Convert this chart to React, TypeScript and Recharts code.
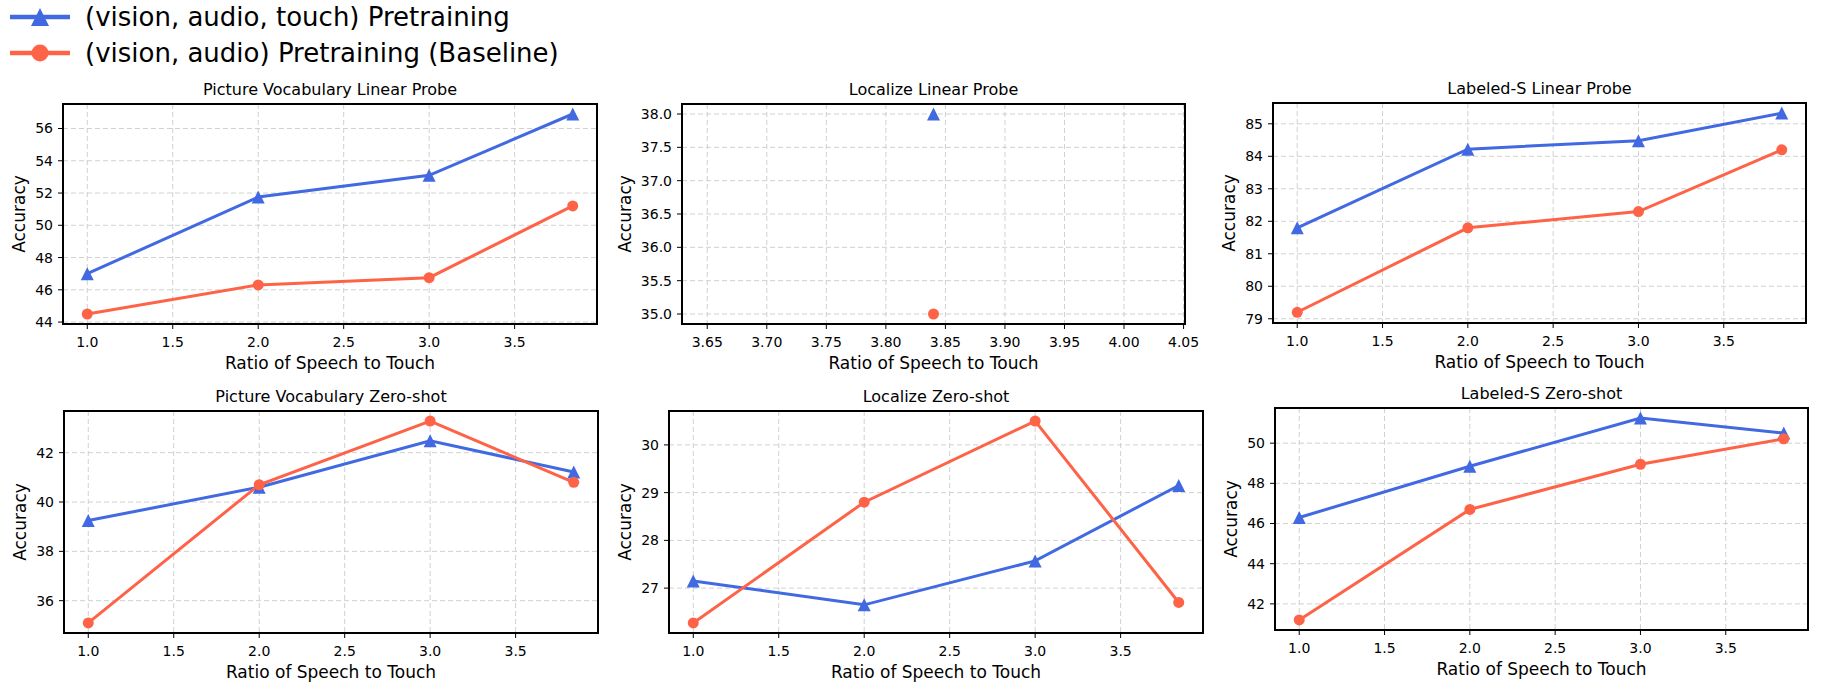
import { LineChart, Line, XAxis, YAxis, CartesianGrid } from 'recharts';

const BLUE = '#4169E1';
const RED = '#FF6347';
const FONT = '"DejaVu Sans", sans-serif';

// x values (ratio of speech to touch)
const X_RATIOS = [1.0, 2.0, 3.0, 3.84];
const X_SINGLE = [3.84];
const X_TICKS = [1.0, 1.5, 2.0, 2.5, 3.0, 3.5];
const X_TICKS_SINGLE = [3.65, 3.7, 3.75, 3.8, 3.85, 3.9, 3.95, 4.0, 4.05];

// accuracy per panel: "tri" = (vision, audio, touch), "base" = (vision, audio)
const PV_LINEAR_TRI = [47.0, 51.75, 53.1, 56.9];
const PV_LINEAR_BASE = [44.5, 46.3, 46.75, 51.2];
const LOC_LINEAR_TRI = [38.0];
const LOC_LINEAR_BASE = [35.0];
const LS_LINEAR_TRI = [81.8, 84.22, 84.48, 85.33];
const LS_LINEAR_BASE = [79.2, 81.8, 82.3, 84.2];
const PV_ZERO_TRI = [39.25, 40.6, 42.48, 41.22];
const PV_ZERO_BASE = [35.1, 40.7, 43.28, 40.8];
const LOC_ZERO_TRI = [27.15, 26.65, 27.57, 29.15];
const LOC_ZERO_BASE = [26.27, 28.8, 30.5, 26.7];
const LS_ZERO_TRI = [46.3, 48.85, 51.25, 50.5];
const LS_ZERO_BASE = [41.2, 46.7, 48.95, 50.22];

const PV_LINEAR_TICKS = [44, 46, 48, 50, 52, 54, 56];
const LOC_LINEAR_TICKS = [35.0, 35.5, 36.0, 36.5, 37.0, 37.5, 38.0];
const LS_LINEAR_TICKS = [79, 80, 81, 82, 83, 84, 85];
const PV_ZERO_TICKS = [36, 38, 40, 42];
const LOC_ZERO_TICKS = [27, 28, 29, 30];
const LS_ZERO_TICKS = [42, 44, 46, 48, 50];

const LEGEND_TRI = '(vision, audio, touch) Pretraining';
const LEGEND_BASE = '(vision, audio) Pretraining (Baseline)';

const triangle = (size: number, key: string) =>
  // eslint-disable-next-line @typescript-eslint/no-explicit-any
  (props: any) => {
    const { cx, cy, index } = props;
    if (cx == null || cy == null) return <g key={`${key}-${index}`} />;
    return (
      <path
        key={`${key}-${index}`}
        d={`M${cx},${cy - size}L${cx + size},${cy + size}L${cx - size},${cy + size}Z`}
        fill={BLUE}
      />
    );
  };

interface PanelProps {
  title: string;
  xs: number[];
  tri: number[];
  base: number[];
  xDomain: [number, number];
  xTicks: number[];
  xDigits: number;
  yDomain: [number, number];
  yTicks: number[];
  yDigits: number;
  box: [number, number, number, number];
  yLabelGap?: number;
}

function Panel({ title, xs, tri, base, xDomain, xTicks, xDigits, yDomain, yTicks, yDigits, box, yLabelGap = 44 }: PanelProps) {
  const [x0, y0, x1, y1] = box;
  const padL = 70, padT = 12, padR = 30, padB = 40;
  const w = x1 - x0;
  const h = y1 - y0;
  const data = xs.map((x, i) => ({ x, tri: tri[i], base: base[i] }));
  const tickStyle = { fill: '#000', fontSize: 14, fontFamily: FONT };

  return (
    <>
      <div style={{ position: 'absolute', left: x0 - padL, top: y0 - padT }}>
        <LineChart
          width={w + padL + padR}
          height={h + padT + padB}
          data={data}
          margin={{ top: padT, right: padR, bottom: 0, left: 0 }}
        >
          <CartesianGrid stroke="#d0d0d0" strokeDasharray="5 3" />
          <XAxis
            dataKey="x"
            type="number"
            domain={xDomain}
            ticks={xTicks}
            interval={0}
            allowDataOverflow
            height={padB}
            axisLine={false}
            tickLine={{ stroke: '#000' }}
            tickSize={5}
            tickMargin={8}
            tick={tickStyle}
            tickFormatter={(v: number) => v.toFixed(xDigits)}
          />
          <YAxis
            type="number"
            domain={yDomain}
            ticks={yTicks}
            interval={0}
            allowDataOverflow
            width={padL}
            axisLine={false}
            tickLine={{ stroke: '#000' }}
            tickSize={5}
            tickMargin={5}
            tick={tickStyle}
            tickFormatter={(v: number) => v.toFixed(yDigits)}
          />
          <Line
            dataKey="tri"
            stroke={BLUE}
            strokeWidth={3}
            dot={triangle(6.5, title)}
            activeDot={false}
            isAnimationActive={false}
          />
          <Line
            dataKey="base"
            stroke={RED}
            strokeWidth={3}
            dot={{ r: 5.5, fill: RED, stroke: RED, strokeWidth: 0 }}
            activeDot={false}
            isAnimationActive={false}
          />
        </LineChart>
      </div>
      <div
        style={{
          position: 'absolute',
          left: x0 - 1,
          top: y0 - 1,
          width: w + 2,
          height: h + 2,
          border: '2px solid #000',
          boxSizing: 'border-box',
          pointerEvents: 'none',
        }}
      />
      <div style={{ ...labelBase, left: (x0 + x1) / 2, top: y0 - 14, fontSize: 16 }}>{title}</div>
      <div style={{ ...labelBase, left: x0 - yLabelGap, top: (y0 + y1) / 2, fontSize: 17, transform: 'translate(-50%, -50%) rotate(-90deg)' }}>
        Accuracy
      </div>
      <div style={{ ...labelBase, left: (x0 + x1) / 2, top: y1 + 39, fontSize: 17 }}>Ratio of Speech to Touch</div>
    </>
  );
}

const labelBase: React.CSSProperties = {
  position: 'absolute',
  transform: 'translate(-50%, -50%)',
  whiteSpace: 'nowrap',
  lineHeight: 1,
  fontFamily: FONT,
  color: '#000',
};

function Legend() {
  return (
    <svg style={{ position: 'absolute', left: 0, top: 0 }} width={620} height={75}>
      <line x1={10} x2={70} y1={17} y2={17} stroke={BLUE} strokeWidth={4.5} />
      <path d="M40,8L49,26L31,26Z" fill={BLUE} />
      <text x={85} y={17} dominantBaseline="central" fontSize={26} fontFamily={FONT} fill="#000">
        {LEGEND_TRI}
      </text>
      <line x1={10} x2={70} y1={53} y2={53} stroke={RED} strokeWidth={4.5} />
      <circle cx={40} cy={53} r={8.5} fill={RED} />
      <text x={85} y={53} dominantBaseline="central" fontSize={26} fontFamily={FONT} fill="#000">
        {LEGEND_BASE}
      </text>
    </svg>
  );
}

export default function App() {
  return (
    <div style={{ position: 'absolute', left: 0, top: 0, width: 1821, height: 692, background: '#fff', fontFamily: FONT }}>
      <Legend />
      <Panel
        title="Picture Vocabulary Linear Probe"
        xs={X_RATIOS}
        tri={PV_LINEAR_TRI}
        base={PV_LINEAR_BASE}
        xDomain={[0.858, 3.982]}
        xTicks={X_TICKS}
        xDigits={1}
        yDomain={[43.88, 57.52]}
        yTicks={PV_LINEAR_TICKS}
        yDigits={0}
        box={[63, 104, 597, 324]}
      />
      <Panel
        title="Localize Linear Probe"
        xs={X_SINGLE}
        tri={LOC_LINEAR_TRI}
        base={LOC_LINEAR_BASE}
        xDomain={[3.6288, 4.0512]}
        xTicks={X_TICKS_SINGLE}
        xDigits={2}
        yDomain={[34.85, 38.15]}
        yTicks={LOC_LINEAR_TICKS}
        yDigits={1}
        box={[682, 104, 1185, 324]}
        yLabelGap={57}
      />
      <Panel
        title="Labeled-S Linear Probe"
        xs={X_RATIOS}
        tri={LS_LINEAR_TRI}
        base={LS_LINEAR_BASE}
        xDomain={[0.858, 3.982]}
        xTicks={X_TICKS}
        xDigits={1}
        yDomain={[78.87, 85.64]}
        yTicks={LS_LINEAR_TICKS}
        yDigits={0}
        box={[1273, 103, 1806, 323]}
      />
      <Panel
        title="Picture Vocabulary Zero-shot"
        xs={X_RATIOS}
        tri={PV_ZERO_TRI}
        base={PV_ZERO_BASE}
        xDomain={[0.858, 3.982]}
        xTicks={X_TICKS}
        xDigits={1}
        yDomain={[34.69, 43.69]}
        yTicks={PV_ZERO_TICKS}
        yDigits={0}
        box={[64, 411, 598, 633]}
      />
      <Panel
        title="Localize Zero-shot"
        xs={X_RATIOS}
        tri={LOC_ZERO_TRI}
        base={LOC_ZERO_BASE}
        xDomain={[0.858, 3.982]}
        xTicks={X_TICKS}
        xDigits={1}
        yDomain={[26.06, 30.71]}
        yTicks={LOC_ZERO_TICKS}
        yDigits={0}
        box={[669, 411, 1203, 633]}
      />
      <Panel
        title="Labeled-S Zero-shot"
        xs={X_RATIOS}
        tri={LS_ZERO_TRI}
        base={LS_ZERO_BASE}
        xDomain={[0.858, 3.982]}
        xTicks={X_TICKS}
        xDigits={1}
        yDomain={[40.7, 51.75]}
        yTicks={LS_ZERO_TICKS}
        yDigits={0}
        box={[1275, 408, 1808, 630]}
      />
    </div>
  );
}
